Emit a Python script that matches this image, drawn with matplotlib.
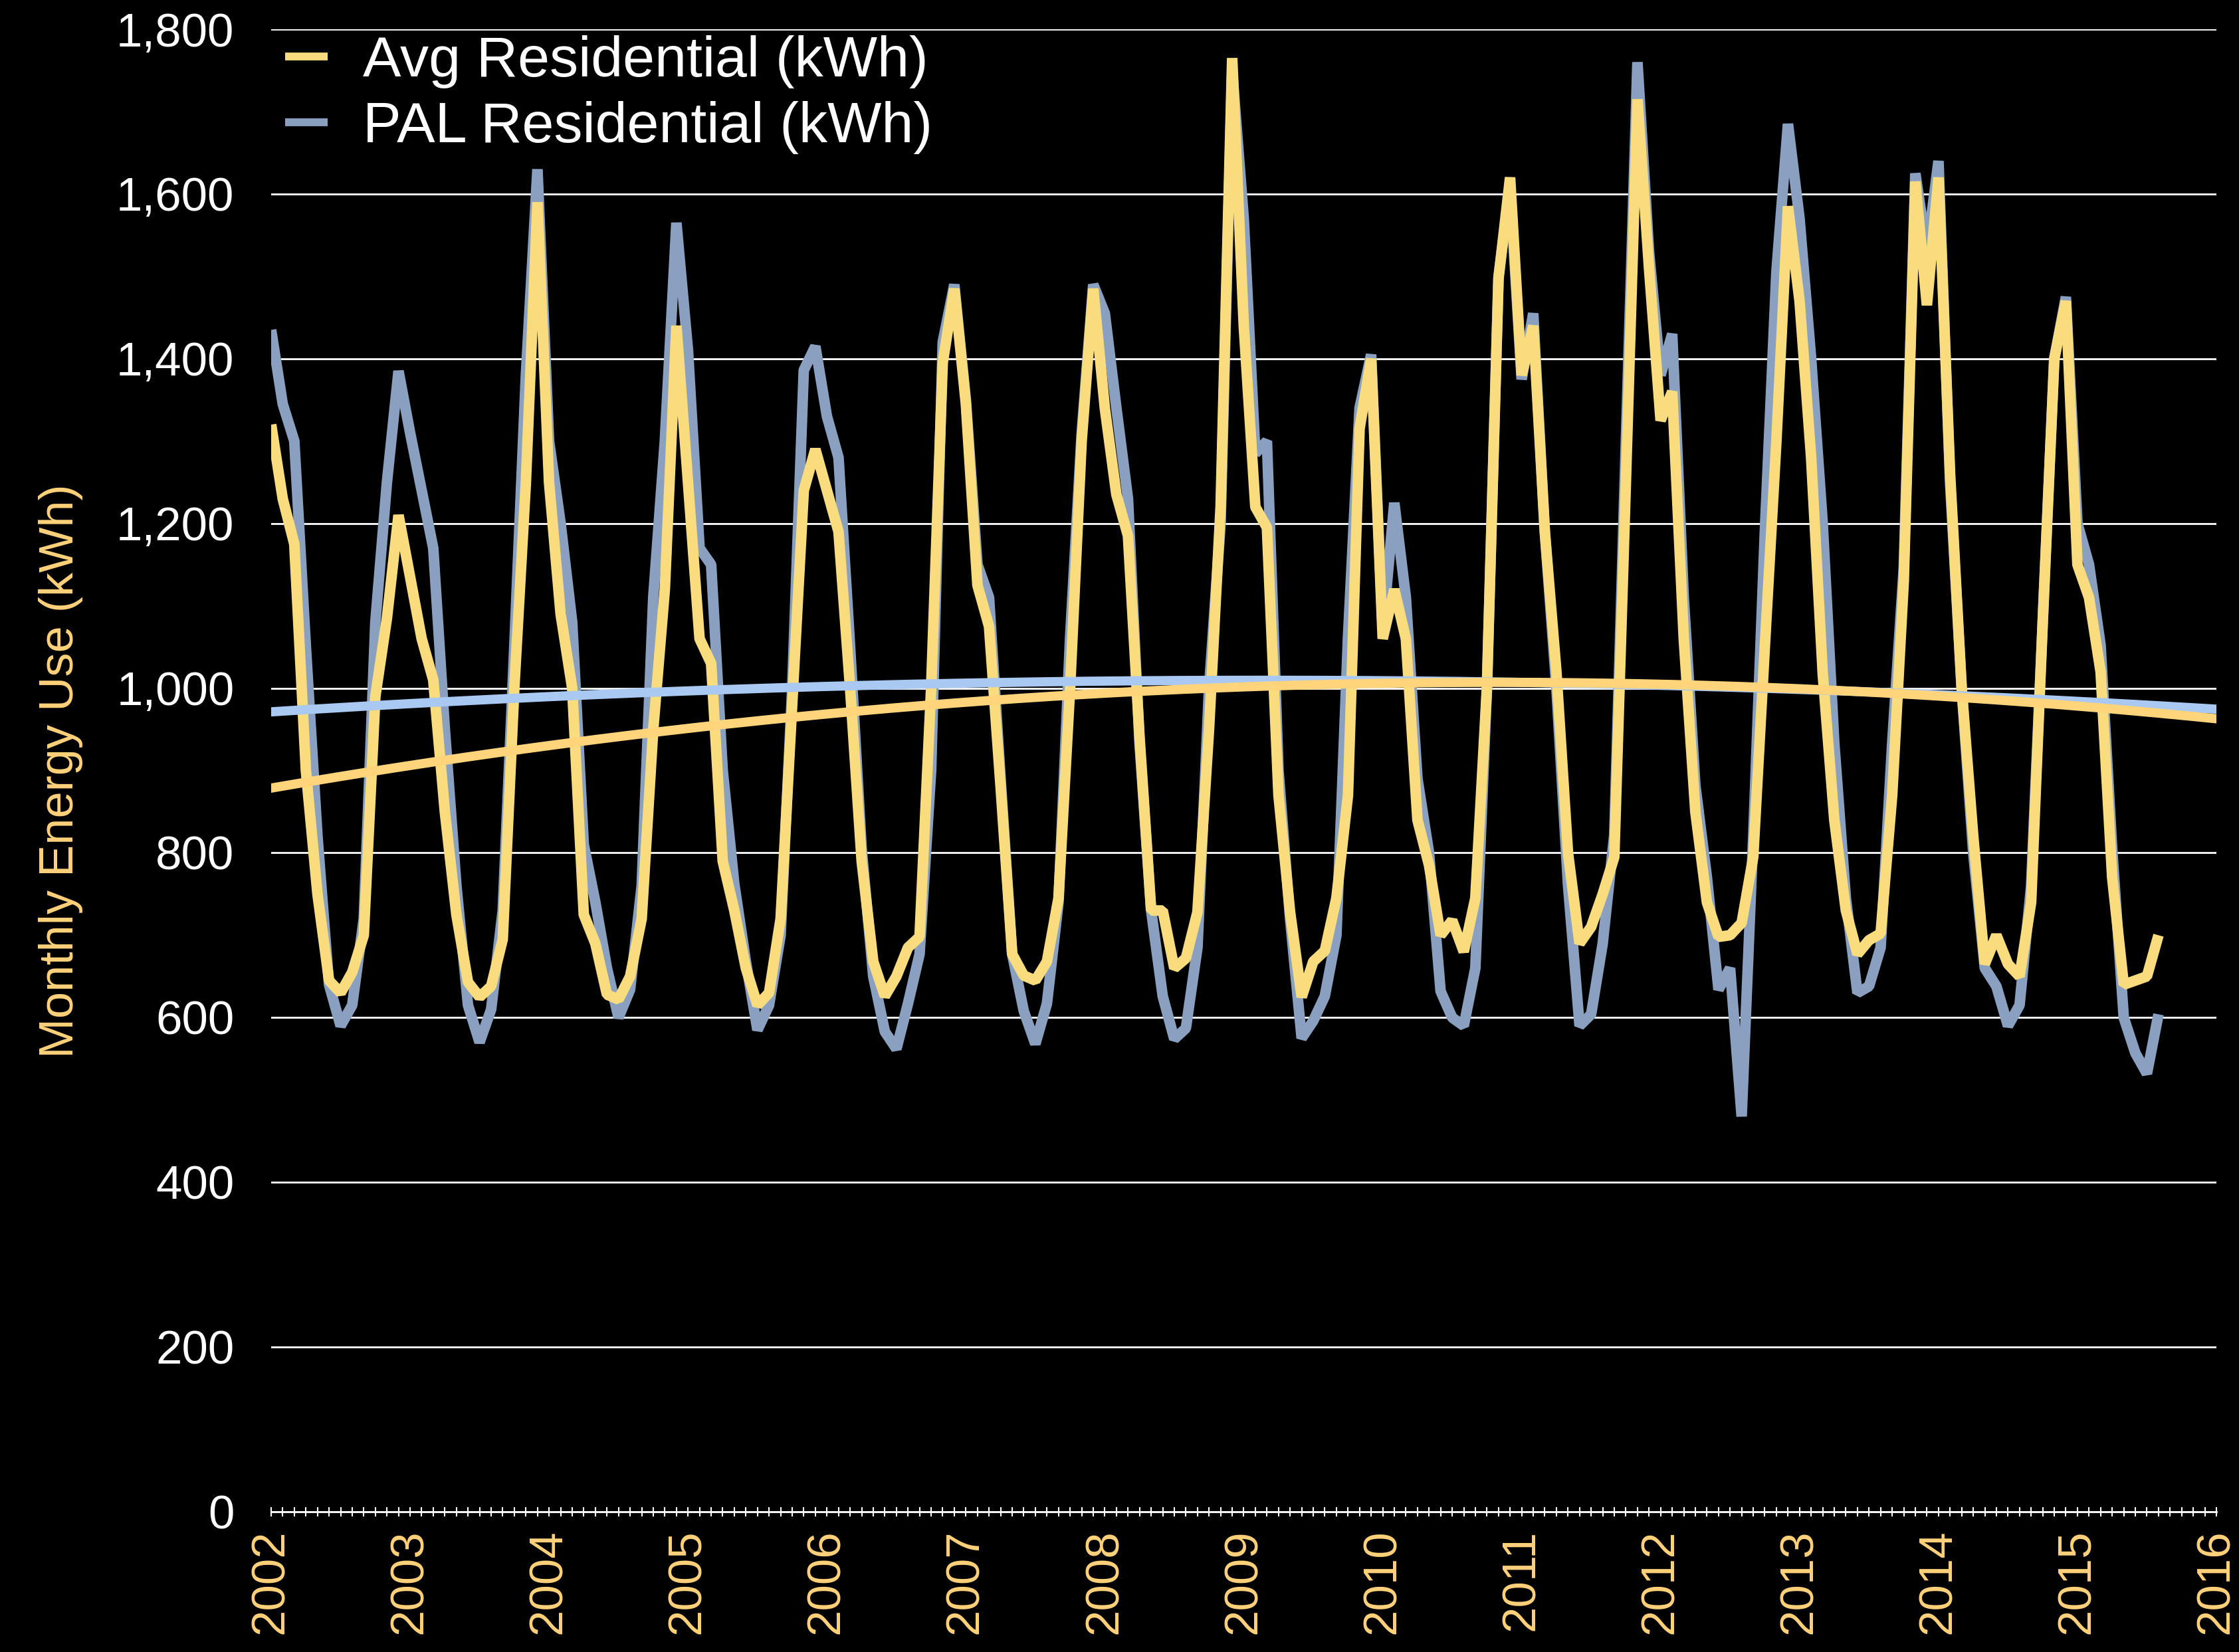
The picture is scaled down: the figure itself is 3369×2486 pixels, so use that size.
import numpy as np
import matplotlib.pyplot as plt
from matplotlib.lines import Line2D
from matplotlib.ticker import FuncFormatter, MultipleLocator

plt.rcParams['font.family'] = ['Liberation Sans', 'DejaVu Sans']

# monthly values, Jan 2002 .. Aug 2015
avg_residential = [
    1320, 1230, 1175, 900, 750, 645, 630, 655, 700, 990, 1085, 1210,    # 2002
    1135, 1060, 1010, 850, 725, 643, 625, 638, 695, 1000, 1250, 1590,   # 2003
    1250, 1090, 1000, 725, 690, 628, 622, 650, 720, 950, 1120, 1440,    # 2004
    1250, 1060, 1030, 790, 730, 660, 615, 630, 720, 980, 1240, 1290,    # 2005
    1240, 1190, 1000, 790, 668, 626, 650, 685, 698, 1000, 1395, 1485,   # 2006
    1345, 1125, 1075, 880, 677, 651, 645, 668, 745, 1000, 1300, 1485,   # 2007
    1340, 1235, 1185, 940, 730, 730, 660, 672, 728, 950, 1220, 1765,    # 2008
    1440, 1220, 1195, 870, 728, 625, 668, 681, 745, 870, 1315, 1400,    # 2009
    1060, 1120, 1060, 840, 785, 700, 718, 680, 745, 1000, 1497, 1620,   # 2010
    1380, 1440, 1190, 1020, 800, 690, 710, 750, 795, 1250, 1715, 1510,  # 2011
    1325, 1360, 1060, 850, 740, 698, 700, 715, 795, 1050, 1300, 1585,   # 2012
    1470, 1280, 1018, 840, 730, 677, 694, 702, 870, 1130, 1615, 1465,   # 2013
    1620, 1260, 1000, 820, 665, 700, 665, 650, 740, 1080, 1400, 1470,   # 2014
    1150, 1110, 1020, 770, 640, 645, 650, 700,                          # 2015
]
pal_residential = [
    1435, 1345, 1300, 1050, 820, 640, 590, 615, 720, 1080, 1250, 1385,  # 2002
    1310, 1240, 1170, 950, 760, 615, 570, 610, 730, 1050, 1380, 1630,   # 2003
    1300, 1200, 1080, 810, 740, 660, 600, 634, 760, 1110, 1300, 1565,   # 2004
    1410, 1170, 1150, 900, 762, 668, 585, 615, 700, 1000, 1386, 1415,   # 2005
    1330, 1280, 1050, 805, 650, 583, 562, 617, 677, 900, 1420, 1490,    # 2006
    1350, 1150, 1110, 890, 677, 608, 568, 617, 740, 1061, 1309, 1490,   # 2007
    1455, 1340, 1230, 933, 730, 626, 574, 587, 685, 1000, 1200, 1750,   # 2008
    1570, 1285, 1300, 900, 720, 575, 596, 626, 700, 1061, 1340, 1405,   # 2009
    1070, 1225, 1110, 890, 800, 632, 600, 590, 660, 1000, 1500, 1608,   # 2010
    1375, 1455, 1190, 1000, 762, 590, 604, 690, 822, 1300, 1760, 1530,  # 2011
    1380, 1430, 1110, 882, 770, 634, 660, 480, 820, 1189, 1505, 1685,   # 2012
    1570, 1400, 1200, 933, 745, 630, 638, 685, 933, 1146, 1625, 1530,   # 2013
    1640, 1250, 1000, 800, 660, 638, 590, 615, 760, 1080, 1400, 1475,   # 2014
    1200, 1150, 1052, 805, 600, 557, 532, 604,                          # 2015
]
years = list(range(2002, 2017))
y_ticks = list(range(0, 1801, 200))

avg_color = '#F9DC7E'
pal_color = '#8AA0C0'
avg_trend_color = '#FFD47A'
pal_trend_color = '#A9C8F2'
label_color = '#FFD27A'

t = 2002 + np.arange(len(avg_residential)) / 12
t_fit = np.linspace(2002, 2016, 300)
avg_trend = np.polyval(np.polyfit(t, avg_residential, 2), t_fit)
pal_trend = np.polyval(np.polyfit(t, pal_residential, 2), t_fit)

fig = plt.figure(figsize=(33.69, 24.86), dpi=100, facecolor='black')
ax = fig.add_axes([0.1211, 0.0849, 0.8688, 0.8974], facecolor='black')

line_kw = dict(lw=11.5, solid_joinstyle='bevel', solid_capstyle='butt')
ax.plot(t, pal_residential, color=pal_color, zorder=3, **line_kw)
ax.plot(t, avg_residential, color=avg_color, zorder=4, **line_kw)
ax.plot(t_fit, pal_trend, color=pal_trend_color, lw=10, zorder=5)
ax.plot(t_fit, avg_trend, color=avg_trend_color, lw=10, zorder=6)

ax.set_xlim(2002, 2016)
ax.set_ylim(0, 1800)
ax.set_yticks(y_ticks)
ax.yaxis.set_major_formatter(FuncFormatter(lambda v, p: f'{v:,.0f}'))
ax.set_xticks(years)
ax.set_xticklabels([str(y) for y in years], rotation=90)
ax.xaxis.set_minor_locator(MultipleLocator(1 / 12))

ax.yaxis.grid(True, color='white', lw=2)
ax.set_axisbelow(True)
for s in ['left', 'right', 'top']:
    ax.spines[s].set_visible(False)
ax.spines['bottom'].set_color('white')
ax.spines['bottom'].set_linewidth(2)

ax.tick_params(axis='y', length=0, pad=40, labelsize=51, labelcolor='white')
ax.tick_params(axis='x', which='both', direction='inout', length=10, width=1.5,
               color='white', pad=14, labelsize=51, labelcolor=label_color)

fig.text(92 / 3369, 1 - 1160 / 2486, 'Monthly Energy Use (kWh)', rotation=90,
         ha='center', va='center', fontsize=52, color=label_color)

handles = [Line2D([], [], color=avg_color, lw=8.5, solid_capstyle='butt'),
           Line2D([], [], color=pal_color, lw=8.5, solid_capstyle='butt')]
labels = ['Avg Residential (kWh)', 'PAL Residential (kWh)']
leg = ax.legend(handles, labels, loc='upper left', bbox_to_anchor=(0.0072, 0.996),
                frameon=False, fontsize=62, handlelength=0.74,
                handletextpad=0.62, labelspacing=0.22, borderpad=0, borderaxespad=0)
for txt in leg.get_texts():
    txt.set_color('white')

fig.savefig('out.png', dpi=100, facecolor='black')
